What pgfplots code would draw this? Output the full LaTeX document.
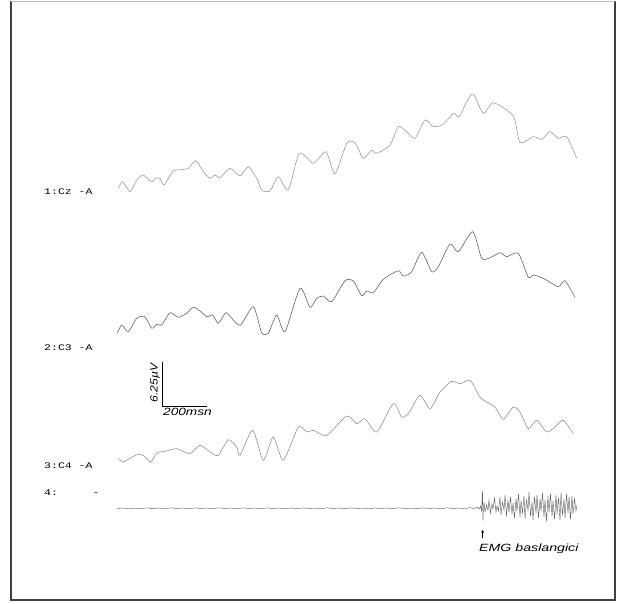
\documentclass[border=0pt]{standalone}
\usepackage{fontspec}
\setmainfont{Liberation Sans}
\newfontfamily\plotfont{Liberation Mono}
\usepackage{pgfplots}
\pgfplotsset{compat=1.18}
\usetikzlibrary{arrows.meta}
\newcommand{\chlabel}[1]{\scalebox{1}[0.75]{\plotfont\fontsize{11.5}{11.5}\selectfont #1}}
\begin{document}
\begin{tikzpicture}
\begin{axis}[
  scale only axis, width=623pt, height=604pt,
  xmin=0, xmax=623, ymin=0, ymax=604, y dir=reverse,
  axis lines=none, clip=false,
]
% bounding box
\addplot[draw=none] coordinates {(0,0) (623,604)};
% frame
\addplot[black!75, line width=1.1pt] coordinates {(11,1) (11,600) (615,600) (615,1)};
\addplot[black!25, line width=0.6pt] coordinates {(11,1) (615,1)};
% trace 1 Cz
\addplot[black!45, line width=0.5pt, smooth, tension=0.4] coordinates {
(118.3,188.3)(122.7,181.7)(130,191.7)(136.7,180)(143.3,175)(151.7,181.7)(156.7,177.7)(160,178.3)(164,185)
(173.3,170.7)(180,170)(188.3,168.3)(196,160.7)(203.3,171.7)(210,178.3)(215,175)(220,177.7)(230,168.3)
(240,176)(248.3,166.7)(256.7,178.3)(261.7,190)(270,191)(278.3,176.7)(288.3,190)(299.3,153.3)(313.3,163.3)
(326,151.7)(335,174)(346.7,143.3)(355,142.7)(363.3,158.3)(371.7,150)(376.7,153.3)(390,145)(398.3,126.7)
(406.7,131.7)(415,138.3)(425,120)(433.3,126.7)(443.3,124.3)(453.3,113.3)(459.3,116.7)(466.7,101.7)
(473.3,94)(483.3,113.3)(493.3,102.7)(513.3,116)(520,142.7)(533.3,136.7)(541.7,139.3)(550,131.7)
(558.3,138.3)(566.7,136.7)(576.7,158.3)};
% trace 2 C3
\addplot[black!65, line width=0.55pt, smooth, tension=0.4] coordinates {
(117.3,333.3)(121.7,325)(128.3,331.7)(136.7,318.3)(145,316.7)(151.7,328.3)(156.7,324.3)(161.7,325)
(170,312.7)(178.3,317.3)(186.7,313.3)(193.3,307.3)(200,311)(206.7,316.7)(212.7,315)(218.3,323.3)
(226,312.7)(233.3,320)(240.7,325)(253.3,306.7)(261.7,332.7)(268.3,333.3)(276.7,315)(285,331.7)
(300,288.3)(310,307.3)(316.7,298.3)(323.3,296)(331.7,301.7)(345,280.7)(353.3,281)(361.7,295.7)
(366.7,291)(373.3,292.7)(383.3,279.3)(398.3,270.7)(403.3,276)(411.7,271.7)(421.7,252.3)(431.7,271.7)
(438.3,266.7)(450,244)(458.3,251.7)(472.7,231.7)(481.7,258.3)(490,257.7)(500,252.7)(506.7,256.7)
(518.3,253.3)(528.3,277.3)(533.3,275)(543.3,278.3)(558.3,286.7)(565,280.7)(575,297.3)};
% trace 3 C4
\addplot[black!50, line width=0.5pt, smooth, tension=0.4] coordinates {
(118.3,458.7)(123.3,462)(128.3,459.3)(136.7,454.7)(143.3,455.3)(150.7,462)(156.7,453)(165,451.3)
(176.7,448.7)(190,453.7)(200,445.3)(210,452)(218.3,455.3)(228.3,439.7)(236.7,447)(240,455.3)
(252.7,430.3)(263.3,460.3)(273.3,437)(283.3,460.3)(298.3,427)(306.7,432)(313.3,430.3)(326.7,435.3)
(346.7,416)(356.7,423.7)(365,418.7)(376.7,432)(393.3,403.7)(401.7,417)(408.3,413.7)(420,395.3)
(430,408.7)(440,392)(451.7,381.3)(460,383.7)(470,380.3)(480,397)(486.7,402)(495,407)(503.3,419.3)
(513.3,407)(520,412)(528.3,428.7)(536.7,420.3)(546.7,432)(555,427)(563.3,420.3)(573.3,433.7)};
% trace 4 EMG
\addplot[black!60, line width=0.45pt] coordinates {
(117,508.5)(123,508)(129,508.8)(135,508.1)(141,508.6)(147,507.9)(153,508.7)(159,508)(165,508.9)(171,507.8)
(177,508.6)(183,508.1)(189,508.8)(195,507.9)(201,508.5)(207,508)(213,508.8)(219,507.8)(225,508.6)(231,508.1)
(237,508.7)(243,507.9)(249,508.5)(255,508)(261,508.8)(267,507.9)(273,508.6)(279,508.1)(285,508.7)(291,508)
(297,508.6)(303,507.9)(309,508.5)(315,508.1)(321,508.8)(327,507.8)(333,508.6)(339,508)(345,508.7)(351,507.9)
(357,508.5)(363,508.1)(369,508.8)(375,507.9)(381,508.6)(387,508)(393,508.7)(399,507.8)(405,508.6)(411,508.1)
(417,508.7)(423,507.9)(429,508.5)(435,508)(441,508.8)(447,507.8)(453,508.6)(459,508)(465,508.9)(470,507.5)
(474,509)(477,506.8)(479,509.2)(480.5,506)(481.5,511)(482.5,491)(483,521)(483.5,504)
(484,503)(485,512)(486.5,505)(488,510)(489,500)(490.5,513)(492,504)(493,509)(494.5,498)(496,512)
(497,506)(498.5,511)(500,497)(501,515)(502.5,502)(504,510)(505,495)(506.5,516)(508,500)(509,512)
(510.5,497)(512,514)(513,503)(514.5,518)(516,499)(517,511)(518.5,494)(520,517)(521,501)(522.5,513)
(524,496)(525,519)(526.5,500)(528,510)(529,492)(530.5,516)(532,502)(533,520)(534.5,497)(536,513)
(537,495)(538.5,518)(540,499)(541,511)(542.5,493)(544,517)(545,500)(546.5,521)(548,496)(549,512)
(550.5,494)(552,516)(553,501)(554.5,519)(556,495)(557,514)(558.5,498)(560,520)(561,493)(562.5,515)
(564,499)(565,518)(566.5,494)(568,513)(569,497)(570.5,519)(572,496)(573,514)(574.5,499)(576,511)(577,505)};
% scale bar
\addplot[black, line width=0.6pt] coordinates {(162.7,361.7) (162.7,406) (207.3,406)};
\node[rotate=90, anchor=south, inner sep=2pt] at (axis cs:162,383) {\scalebox{1.15}[1]{\itshape\fontsize{10.5}{10}\selectfont 6.25µV}};
\node[anchor=north west, inner sep=1pt] at (axis cs:162,407) {\scalebox{1.3}[1]{\itshape\fontsize{10.5}{10}\selectfont 200msn}};
% arrow EMG onset
\addplot[black, line width=0.6pt, -{Stealth[length=3pt,width=3pt]}] coordinates {(482.7,538) (482.7,530)};
\node[anchor=west, inner sep=0pt] at (axis cs:479,549) {\scalebox{1.35}[1]{\itshape\fontsize{10.5}{10}\selectfont EMG baslangici}};
% channel labels
\node[anchor=west, inner sep=0pt] at (axis cs:44,192) {\chlabel{1:Cz -A}};
\node[anchor=west, inner sep=0pt] at (axis cs:44,348) {\chlabel{2:C3 -A}};
\node[anchor=west, inner sep=0pt] at (axis cs:44,466) {\chlabel{3:C4 -A}};
\node[anchor=west, inner sep=0pt] at (axis cs:44,493) {\chlabel{4:\ \ \ \ \ -}};
\end{axis}
\end{tikzpicture}
\end{document}
